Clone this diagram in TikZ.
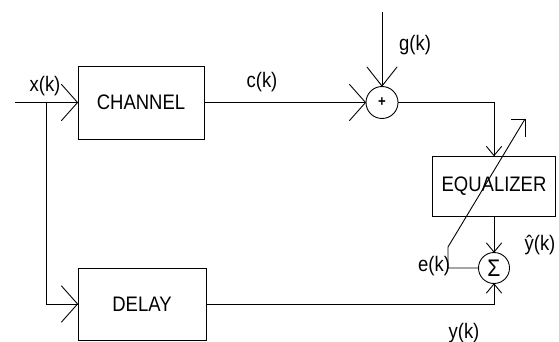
\documentclass[tikz,border=0pt]{standalone}
\usepackage{fontspec}
\newfontfamily\labfont[FakeStretch=0.88]{Liberation Sans}
\usetikzlibrary{arrows.meta}
\pgfdeclarearrow{
  name = OpenVee,
  parameters = {\the\pgfarrowlength,\the\pgfarrowwidth},
  setup code = {
    \pgfarrowssettipend{0pt}
    \pgfarrowssetlineend{0pt}
    \pgfarrowssetbackend{-\pgfarrowlength}
    \pgfarrowsupperhullpoint{-\pgfarrowlength}{.5\pgfarrowwidth}
    \pgfarrowsupperhullpoint{0pt}{0pt}
    \pgfarrowssavethe\pgfarrowlength
    \pgfarrowssavethe\pgfarrowwidth
  },
  drawing code = {
    \pgfsetdash{}{0pt}
    \pgfsetroundjoin
    \pgfsetroundcap
    \pgfpathmoveto{\pgfqpoint{-\pgfarrowlength}{.5\pgfarrowwidth}}
    \pgfpathlineto{\pgfqpoint{0pt}{0pt}}
    \pgfpathlineto{\pgfqpoint{-\pgfarrowlength}{-.5\pgfarrowwidth}}
    \pgfusepathqstroke
  },
  defaults = {length=10pt, width=10pt}
}
\begin{document}
\begin{tikzpicture}[x=1pt,y=-1pt,
  every path/.style={line width=0.9pt},
  box/.style={draw, line width=0.9pt, inner sep=0pt, font=\labfont\fontsize{21}{21}\selectfont},
  sumnode/.style={draw, circle, line width=0.9pt, inner sep=0pt},
  lbl/.style={inner sep=0pt, font=\labfont\fontsize{21}{21}\selectfont},
  bigarr/.style={-{OpenVee[length=16pt,width=36pt]}},
  medarr/.style={-{OpenVee[length=19pt,width=30pt]}},
  smallarr/.style={-{OpenVee[length=9pt,width=15pt]}}
]
\useasboundingbox (0,0) rectangle (559,342);
% blocks
\node[box, minimum width=126pt, minimum height=73pt] (ch) at (141,102.5) {CHANNEL};
\node[box, minimum width=128pt, minimum height=72pt] (dl) at (142,304) {DELAY};
\node[box, minimum width=123pt, minimum height=60pt] (eq) at (494,186) {EQUALIZER};
\node[sumnode, minimum size=32pt, font=\labfont\bfseries\fontsize{15}{15}\selectfont] (sum) at (382,102.5) {+};
\node[sumnode, minimum size=31pt, font=\labfont\fontsize{24}{24}\selectfont] (sig) at (494,268) {Σ};
% coordinates
\coordinate (in) at (15,102.5);
\coordinate (br) at (46,102.5);
\coordinate (gtop) at (382,12);
\coordinate (ec1) at (448,268);
\coordinate (ec2) at (448,247);
\coordinate (etip) at (525,119);
\coordinate (ewl) at (511,119);
\coordinate (ewd) at (525,137);
% connectors
\draw[bigarr] (in) -- (ch.west);
\draw[bigarr] (br) |- (dl.west);
\draw[bigarr] (ch.east) -- (sum.west);
\draw[medarr] (gtop) -- (sum.north);
\draw[smallarr] (sum.east) -| (eq.north);
\draw[smallarr] (eq.south) -- (sig.north);
\draw[smallarr] (dl.east) -| (sig.south);
\draw (sig.west) -- (ec1) -- (ec2) -- (etip);
\draw (ewl) -- (etip) -- (ewd);
% labels
\node[lbl] (lx) at (45,86) {x(k)};
\node[lbl] (lc) at (262,82) {c(k)};
\node[lbl] (lg) at (415,45) {g(k)};
\node[lbl] (le) at (434,266) {e(k)};
\node[lbl] (lyh) at (540,245) {ŷ(k)};
\node[lbl] (ly) at (464,333) {y(k)};
\end{tikzpicture}
\end{document}
